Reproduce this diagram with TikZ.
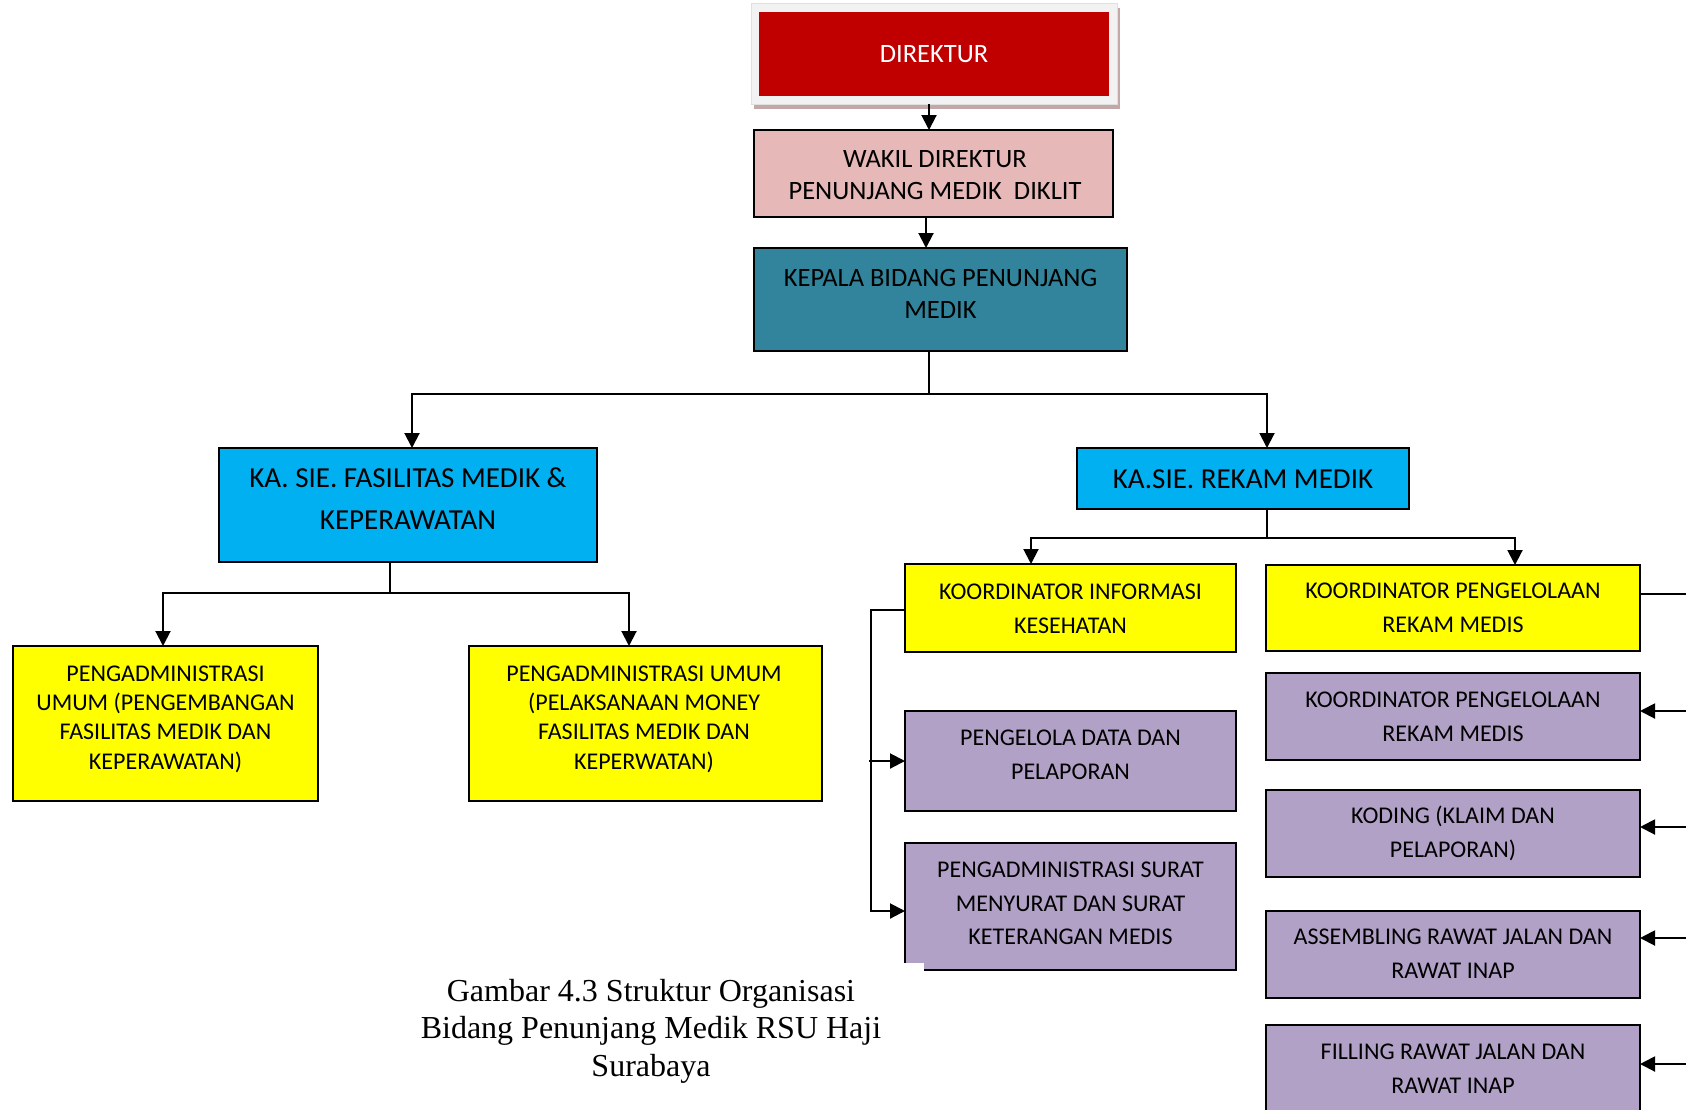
\documentclass[tikz,border=0pt]{standalone}
\usepackage{fontspec}
\setmainfont{Carlito}
\newfontfamily\capfont{Liberation Serif}
\usetikzlibrary{arrows.meta}
\definecolor{dirred}{HTML}{C00000}
\definecolor{framegray}{HTML}{F2F2F2}
\definecolor{shadowrose}{HTML}{C4A7A7}
\definecolor{pinkbox}{HTML}{E6B8B7}
\definecolor{tealbox}{HTML}{31849B}
\definecolor{cyanbox}{HTML}{00B0F0}
\definecolor{yellowbox}{HTML}{FFFF00}
\definecolor{purplebox}{HTML}{B2A1C7}
\tikzset{
  box/.style={rectangle, draw=black, line width=2pt, inner sep=0pt, outer sep=0pt},
  txt/.style={align=center, inner sep=0pt, text=black},
  small/.style={font=\fontsize{24}{#1}\selectfont},
  mid/.style={font=\fontsize{26.5}{#1}\selectfont},
  big/.style={font=\fontsize{29}{#1}\selectfont},
  conn/.style={draw=black, line width=2pt},
  arr/.style={conn, -{Triangle[length=15pt,width=15pt]}}
}
\begin{document}
\begin{tikzpicture}[x=1pt,y=-1pt]
\useasboundingbox (0,0) rectangle (1686,1109);
\fill[white] (0,0) rectangle (1686,1109);
\clip (0,0) rectangle (1686,1109);

% top of the hierarchy
\fill[shadowrose] (754,8) rectangle (1120,109);
\node[rectangle, fill=framegray, draw=black!12, line width=0.6pt, inner sep=0pt,
      minimum width=366pt, minimum height=101pt] (dirframe) at (934,53.5) {};
\node[rectangle, fill=dirred, inner sep=0pt, minimum width=350pt, minimum height=84pt] (dir) at (934,54) {};
\node[txt, text=white, mid=32] (dirT) at (934,54) {DIREKTUR};

\node[box, fill=pinkbox, minimum width=359pt, minimum height=87pt] (wakil) at (933.5,173.5) {};
\node[txt, mid=32] (wakilT) at (935,175) {WAKIL DIREKTUR\\PENUNJANG MEDIK~~DIKLIT};

\node[box, fill=tealbox, minimum width=373pt, minimum height=103pt] (kepala) at (940.5,299.5) {};
\node[txt, mid=32] (kepalaT) at (940.5,294) {KEPALA BIDANG PENUNJANG\\MEDIK};

% sections
\node[box, fill=cyanbox, minimum width=378pt, minimum height=114pt] (fas) at (408,505) {};
\node[txt, big=42] (fasT) at (408,499) {KA. SIE. FASILITAS MEDIK \&\\KEPERAWATAN};

\node[box, fill=cyanbox, minimum width=332pt, minimum height=61pt] (rek) at (1243,478.5) {};
\node[txt, big=42] (rekT) at (1243,479) {KA.SIE. REKAM MEDIK};

% staff under the facilities section
\node[box, fill=yellowbox, minimum width=305pt, minimum height=155pt] (ya) at (165.5,723.5) {};
\node[txt, small=29.3] (yaT) at (165.5,719) {PENGADMINISTRASI\\UMUM (PENGEMBANGAN\\FASILITAS MEDIK DAN\\KEPERAWATAN)};

\node[box, fill=yellowbox, minimum width=353pt, minimum height=155pt] (yb) at (645.5,723.5) {};
\node[txt, small=29.3] (ybT) at (644,719) {PENGADMINISTRASI UMUM\\(PELAKSANAAN MONEY\\FASILITAS MEDIK DAN\\KEPERWATAN)};

% medical records: health information branch
\node[box, fill=yellowbox, minimum width=331pt, minimum height=88pt] (ki) at (1070.5,608) {};
\node[txt, small=34] (kiT) at (1070.5,608.5) {KOORDINATOR INFORMASI\\KESEHATAN};

\node[box, fill=purplebox, minimum width=331pt, minimum height=100pt] (pd) at (1070.5,761) {};
\node[txt, small=34] (pdT) at (1070.5,755) {PENGELOLA DATA DAN\\PELAPORAN};

\node[box, fill=purplebox, minimum width=331pt, minimum height=127pt] (ps) at (1070.5,906.5) {};
\node[txt, small=33.5] (psT) at (1070.5,903.5) {PENGADMINISTRASI SURAT\\MENYURAT DAN SURAT\\KETERANGAN MEDIS};
\fill[white] (903,963) rectangle (924,973);

% medical records: record management branch
\node[box, fill=yellowbox, minimum width=374pt, minimum height=86pt] (kp) at (1453,608) {};
\node[txt, small=34] (kpT) at (1453,608) {KOORDINATOR PENGELOLAAN\\REKAM MEDIS};

\node[box, fill=purplebox, minimum width=374pt, minimum height=87pt] (pa) at (1453,716.5) {};
\node[txt, small=34] (paT) at (1453,717) {KOORDINATOR PENGELOLAAN\\REKAM MEDIS};

\node[box, fill=purplebox, minimum width=374pt, minimum height=87pt] (pb) at (1453,833.5) {};
\node[txt, small=34] (pbT) at (1453,833.5) {KODING (KLAIM DAN\\PELAPORAN)};

\node[box, fill=purplebox, minimum width=374pt, minimum height=87pt] (pc) at (1453,954.5) {};
\node[txt, small=34] (pcT) at (1453,954) {ASSEMBLING RAWAT JALAN DAN\\RAWAT INAP};

\node[box, fill=purplebox, minimum width=374pt, minimum height=95pt] (pe) at (1453,1072.5) {};
\node[txt, small=34] (peT) at (1453,1068.5) {FILLING RAWAT JALAN DAN\\RAWAT INAP};

% connectors
\draw[arr] ([xshift=-5pt]dirframe.south) -- ([xshift=-4.5pt]wakil.north);
\draw[arr] ([xshift=-7.5pt]wakil.south) -- ([xshift=-14.5pt]kepala.north);
\draw[conn] ([xshift=-11.5pt]kepala.south) -- ++(0,43) coordinate (jk);
\draw[arr] (jk) -| ([xshift=4pt]fas.north);
\draw[arr] (jk) -| ([xshift=24pt]rek.north);

\draw[conn] ([xshift=-18pt]fas.south) -- ++(0,31) coordinate (jf);
\draw[arr] (jf) -| ([xshift=-2.5pt]ya.north);
\draw[arr] (jf) -| ([xshift=-16.5pt]yb.north);

\draw[conn] ([xshift=24pt]rek.south) -- ++(0,29) coordinate (jr);
\draw[arr] (jr) -| ([xshift=-39.5pt]ki.north);
\draw[arr] (jr) -| ([xshift=62pt]kp.north);

\draw[arr] ([yshift=-2pt]ki.west) -| ([xshift=-34pt,yshift=-4.5pt]ps.west) -- ([yshift=-4.5pt]ps.west);
\draw[arr] ([xshift=-36pt]pd.west) -- (pd.west);

% record-management trunk runs just beyond the right edge
\coordinate (trunk) at (1710,594);
\coordinate (ea) at ([yshift=5.5pt]pa.east);
\coordinate (eb) at ([yshift=6.5pt]pb.east);
\coordinate (ec) at ([yshift=16.5pt]pc.east);
\coordinate (ee) at ([yshift=8.5pt]pe.east);
\draw[conn] ([yshift=14pt]kp.east) -- (trunk);
\draw[arr] (trunk |- ea) -- (ea);
\draw[arr] (trunk |- eb) -- (eb);
\draw[arr] (trunk |- ec) -- (ec);
\draw[arr] (trunk |- ee) -- (ee);

% caption
\node[align=center, inner sep=0pt, font=\capfont\fontsize{32}{37.6}\selectfont] (cap) at (651,1031)
  {Gambar 4.3 Struktur Organisasi\\Bidang Penunjang Medik RSU Haji\\Surabaya};
\end{tikzpicture}
\end{document}
